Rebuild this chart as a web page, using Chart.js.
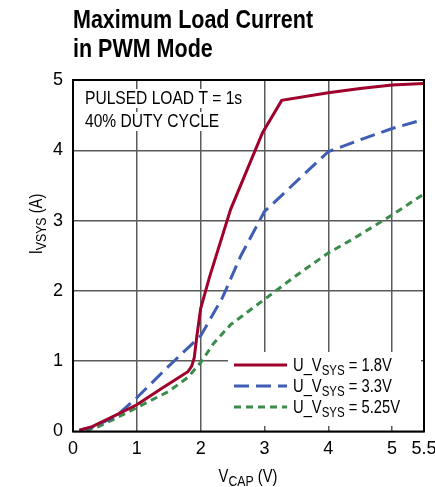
<!DOCTYPE html>
<html>
<head>
<meta charset="utf-8">
<script src="https://cdn.jsdelivr.net/npm/chart.js@4/dist/chart.umd.min.js"></script>
<style>
  html, body { margin: 0; padding: 0; background: #fff; }
  canvas { display: block; }
</style>
</head>
<body>
<canvas id="chart" width="435" height="487"></canvas>
<script>
// Data: V_CAP (V) vs I_VSYS (A)
const vsys18 = [[0.1,0.02],[0.3,0.07],[0.6,0.2],[1.0,0.38],[1.4,0.62],[1.8,0.85],[1.86,0.93],[1.9,1.05],[1.94,1.35],[2.0,1.75],[2.14,2.2],[2.47,3.16],[2.97,4.25],[3.27,4.71],[4.0,4.82],[4.5,4.88],[5.0,4.93],[5.5,4.95]];
const vsys33 = [[0.1,0.02],[0.3,0.06],[0.68,0.22],[1.0,0.48],[1.5,0.93],[2.0,1.36],[2.34,1.9],[2.63,2.5],[3.0,3.13],[3.12,3.23],[3.54,3.59],[4.0,3.98],[4.5,4.15],[5.0,4.31],[5.5,4.44]];
const vsys525 = [[0.2,0.01],[0.4,0.07],[0.63,0.17],[1.0,0.34],[1.5,0.57],[1.8,0.77],[2.0,0.98],[2.2,1.25],[2.47,1.52],[3.0,1.88],[3.5,2.22],[4.0,2.54],[4.39,2.74],[5.0,3.08],[5.5,3.38]];
const xTicks = [0, 1, 2, 3, 4, 5, 5.5];
const yTicks = [0, 1, 2, 3, 4, 5];
const seriesNames = ['1.8V', '3.3V', '5.25V'];

const RED = '#a0002c';
const BLUE = '#3e5db3';
const GREEN = '#3b8c4c';
const FONT = '"Liberation Sans", Arial, sans-serif';
const SX = 0.82;   // squeeze to look like a condensed face

function toPoints(arr) {
    return arr.map(p => ({ x: p[0], y: p[1] }));
}

// draw text squeezed horizontally, return the drawn width
function squeezed(ctx, text, x, y, sx) {
    ctx.save();
    ctx.translate(x, y);
    ctx.scale(sx, 1);
    ctx.fillText(text, 0, 0);
    ctx.restore();
    return ctx.measureText(text).width * sx;
}

// text with a subscript part: [main, sub, rest]
function drawSubText(ctx, x, y, parts, size, subSize) {
    ctx.font = size + 'px ' + FONT;
    x += squeezed(ctx, parts[0], x, y, SX);
    ctx.font = subSize + 'px ' + FONT;
    x += squeezed(ctx, parts[1], x, y + 4, SX);
    ctx.font = size + 'px ' + FONT;
    x += squeezed(ctx, parts[2], x, y, SX);
    return x;
}
function measureSubText(ctx, parts, size, subSize) {
    ctx.font = size + 'px ' + FONT;
    let w = ctx.measureText(parts[0]).width + ctx.measureText(parts[2]).width;
    ctx.font = subSize + 'px ' + FONT;
    return (w + ctx.measureText(parts[1]).width) * SX;
}

const decorations = {
    id: 'decorations',
    afterDraw(chart) {
        const ctx = chart.ctx;
        const a = chart.chartArea;
        ctx.save();

        // frame
        ctx.strokeStyle = '#000';
        ctx.lineWidth = 2;
        ctx.strokeRect(a.left, a.top, a.right - a.left, a.bottom - a.top);

        // title
        ctx.fillStyle = '#000';
        ctx.textAlign = 'left';
        ctx.textBaseline = 'alphabetic';
        ctx.font = 'bold 25px ' + FONT;
        squeezed(ctx, 'Maximum Load Current', 73, 28, 0.86);
        squeezed(ctx, 'in PWM Mode', 73, 57, 0.86);

        // note in upper left, white behind text
        ctx.font = '19px ' + FONT;
        const notes = [['PULSED LOAD T = 1s', 104], ['40% DUTY CYCLE', 127]];
        notes.forEach(n => {
            const w = ctx.measureText(n[0]).width * SX;
            ctx.fillStyle = '#fff';
            ctx.fillRect(83, n[1] - 15, w + 4, 19);
            ctx.fillStyle = '#000';
            squeezed(ctx, n[0], 85, n[1], SX);
        });

        // legend
        ctx.fillStyle = '#fff';
        ctx.fillRect(228, 352, 193, 74);
        const styles = [
            { c: RED, d: [] },
            { c: BLUE, d: [15, 7] },
            { c: GREEN, d: [7, 5] }
        ];
        const rowsY = [365, 386, 407];
        styles.forEach((s, i) => {
            ctx.strokeStyle = s.c;
            ctx.lineWidth = 3;
            ctx.setLineDash(s.d);
            ctx.beginPath();
            ctx.moveTo(234, rowsY[i]);
            ctx.lineTo(287, rowsY[i]);
            ctx.stroke();
            ctx.setLineDash([]);
            ctx.fillStyle = '#000';
            drawSubText(ctx, 293, rowsY[i] + 6, ['U_V', 'SYS', ' = ' + seriesNames[i]], 18, 14);
        });

        // axis titles
        ctx.fillStyle = '#000';
        const xParts = ['V', 'CAP', ' (V)'];
        const xw = measureSubText(ctx, xParts, 18, 15);
        drawSubText(ctx, 248 - xw / 2, 482, xParts, 18, 15);

        const yParts = ['I', 'VSYS', ' (A)'];
        const yw = measureSubText(ctx, yParts, 18, 15);
        ctx.translate(42, 224);
        ctx.rotate(-Math.PI / 2);
        drawSubText(ctx, -yw / 2, 0, yParts, 18, 15);

        ctx.restore();
    }
};

const ctx = document.getElementById('chart').getContext('2d');
const chart = new Chart(ctx, {
    type: 'scatter',
    data: {
        datasets: [
            { label: seriesNames[0], data: toPoints(vsys18), borderColor: RED, borderWidth: 3, showLine: true, pointRadius: 0, tension: 0 },
            { label: seriesNames[1], data: toPoints(vsys33), borderColor: BLUE, borderWidth: 3, borderDash: [15, 7], showLine: true, pointRadius: 0, tension: 0 },
            { label: seriesNames[2], data: toPoints(vsys525), borderColor: GREEN, borderWidth: 3, borderDash: [7, 5], showLine: true, pointRadius: 0, tension: 0 }
        ]
    },
    options: {
        responsive: false,
        animation: false,
        layout: { padding: { top: 80, right: 11, left: 0, bottom: 0 } },
        plugins: { legend: { display: false }, tooltip: { enabled: false }, title: { display: false } },
        scales: {
            x: {
                type: 'linear',
                min: 0,
                max: 5.5,
                afterBuildTicks: s => { s.ticks = xTicks.map(v => ({ value: v })); },
                afterFit: s => { s.height = 55.5; s.paddingLeft = 0; s.paddingRight = 0; },
                grid: { color: '#5a5a5a', lineWidth: 1.5, drawTicks: false },
                border: { display: false },
                ticks: {
                    autoSkip: false,
                    maxRotation: 0,
                    padding: 7,
                    color: '#000',
                    font: { family: FONT, size: 18 },
                    callback: v => String(v)
                }
            },
            y: {
                min: 0,
                max: 5,
                afterBuildTicks: s => { s.ticks = yTicks.map(v => ({ value: v })); },
                afterFit: s => { s.width = 73; s.paddingTop = 0; s.paddingBottom = 0; },
                grid: { color: '#5a5a5a', lineWidth: 1.5, drawTicks: false },
                border: { display: false },
                ticks: {
                    padding: 10,
                    color: '#000',
                    font: { family: FONT, size: 18 },
                    callback: v => String(v)
                }
            }
        }
    },
    plugins: [decorations]
});
</script>
</body>
</html>
